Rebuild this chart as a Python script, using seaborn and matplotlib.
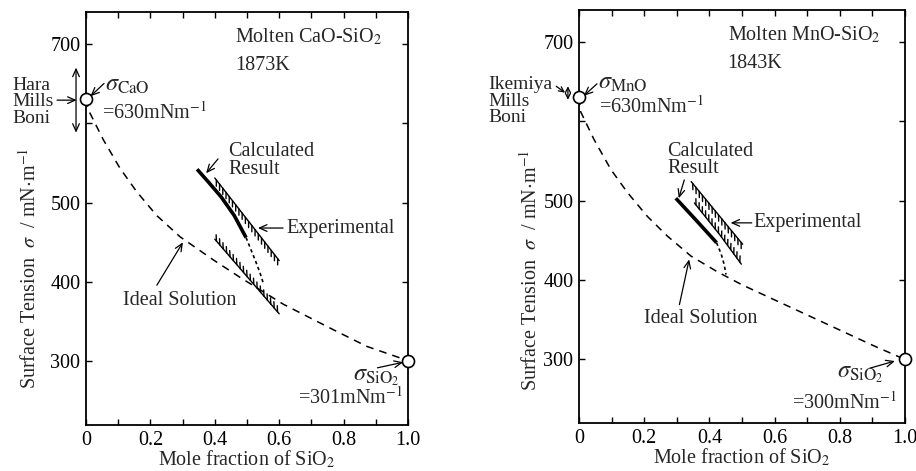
import matplotlib
matplotlib.use('Agg')
import matplotlib.pyplot as plt
import matplotlib.patheffects as pe
import seaborn as sns
import numpy as np

sns.set_theme(style='ticks')
plt.rcParams['font.family'] = ['Liberation Serif', 'DejaVu Serif']
plt.rcParams['mathtext.fontset'] = 'stix'

# ---------------- data: CaO-SiO2 (1873 K) ----------------
cao_ideal_x = [0, 0.007, 0.054, 0.106, 0.157, 0.219, 0.292, 0.395, 0.478, 0.613, 0.768, 0.872, 1.0]
cao_ideal_y = [630, 617, 579, 543, 514, 484, 457, 428, 406, 372, 340, 319, 301]
cao_calc_x = [0.345, 0.38, 0.42, 0.46, 0.497]
cao_calc_y = [542, 526, 507, 484, 456]
cao_dot_x = [0.497, 0.509, 0.525, 0.540, 0.551]
cao_dot_y = [456, 444, 428, 412, 398]
cao_exp_up_x = [0.40, 0.50, 0.60]
cao_exp_up_y = [531, 479, 427]
cao_exp_lo_x = [0.40, 0.50, 0.60]
cao_exp_lo_y = [454, 407, 360]
cao_end_x = [0.0, 1.0]
cao_end_y = [630, 301]

# ---------------- data: MnO-SiO2 (1843 K) ----------------
mno_ideal_x = [0, 0.005, 0.046, 0.098, 0.149, 0.21, 0.272, 0.344, 0.426, 0.5, 0.6, 0.7, 0.8, 0.9, 1.0]
mno_ideal_y = [630, 612, 577, 539, 510, 480, 455, 430, 410, 394, 375, 356, 337, 318, 300]
mno_calc_x = [0.297, 0.36, 0.422]
mno_calc_y = [503, 475, 447]
mno_dot_x = [0.422, 0.436, 0.445, 0.451]
mno_dot_y = [447, 433, 420, 407]
mno_exp_up_x = [0.344, 0.42, 0.502]
mno_exp_up_y = [524, 486, 445]
mno_exp_lo_x = [0.354, 0.43, 0.498]
mno_exp_lo_y = [497, 458, 420]
mno_end_x = [0.0, 1.0]
mno_end_y = [630, 300]

xticks = [0, 0.1, 0.2, 0.3, 0.4, 0.5, 0.6, 0.7, 0.8, 0.9, 1.0]
xticklabels = ['0', '', '0.2', '', '0.4', '', '0.6', '', '0.8', '', '1.0']
yticks = [300, 400, 500, 600, 700]
yticklabels = ['300', '400', '500', '', '700']

FS = 14.5
fig = plt.figure(figsize=(9.16, 4.71), dpi=100)
axL = fig.add_axes([86/916, 1-425/471, 322/916, 413/471])
axR = fig.add_axes([579/916, 1-423/471, 326/916, 413/471])

arrow = dict(arrowstyle='->,head_length=0.45,head_width=0.2', color='black', lw=0.9,
             shrinkA=0, shrinkB=0)
small_arrow = dict(arrowstyle='->,head_length=0.3,head_width=0.15', color='black',
                   lw=0.9, shrinkA=0, shrinkB=0)


def arr(ax, head, tail, props=arrow):
    ax.annotate('', xy=head, xytext=tail, annotation_clip=False, arrowprops=props)


def draw_panel(ax, ix, iy, cx, cy, dx, dy, ux, uy, lx, ly, ex, ey):
    sns.lineplot(x=ix, y=iy, ax=ax, color='black', lw=1.1, sort=False)
    ax.lines[-1].set_dashes([5, 4])
    sns.lineplot(x=cx, y=cy, ax=ax, color='black', lw=2.6, sort=False)
    ax.lines[-1].set_solid_capstyle('butt')
    sns.lineplot(x=dx, y=dy, ax=ax, color='black', lw=1.2, sort=False)
    ax.lines[-1].set_dashes([2, 1.8])
    sns.lineplot(x=ux, y=uy, ax=ax, color='black', lw=1.0, sort=False)
    ax.lines[-1].set_path_effects([pe.withTickedStroke(angle=-38, spacing=3.6, length=1.25)])
    sns.lineplot(x=lx, y=ly, ax=ax, color='black', lw=1.0, sort=False)
    ax.lines[-1].set_path_effects([pe.withTickedStroke(angle=142, spacing=3.6, length=1.25)])
    sns.scatterplot(x=ex, y=ey, ax=ax, s=75, facecolor='white', edgecolor='black',
                    linewidth=1.2, zorder=5, clip_on=False)
    ax.set_xlim(0, 1.0)
    ax.set_ylim(220, 740)
    ax.set_xticks(xticks)
    ax.set_xticklabels(xticklabels)
    ax.set_yticks(yticks)
    ax.set_yticklabels(yticklabels)
    ax.tick_params(direction='in', top=True, right=True, length=4, width=1,
                   labelsize=FS, pad=4, colors='black')
    for s in ax.spines.values():
        s.set_linewidth(1.3)
        s.set_color('black')
        s.set_visible(True)
    ax.set_xlabel('Mole fraction of SiO$_2$', fontsize=FS)
    ax.set_ylabel(r'Surface Tension  $\sigma$  / mN$\cdot$m$^{-1}$', fontsize=FS)


draw_panel(axL, cao_ideal_x, cao_ideal_y, cao_calc_x, cao_calc_y, cao_dot_x, cao_dot_y,
           cao_exp_up_x, cao_exp_up_y, cao_exp_lo_x, cao_exp_lo_y, cao_end_x, cao_end_y)
draw_panel(axR, mno_ideal_x, mno_ideal_y, mno_calc_x, mno_calc_y, mno_dot_x, mno_dot_y,
           mno_exp_up_x, mno_exp_up_y, mno_exp_lo_x, mno_exp_lo_y, mno_end_x, mno_end_y)

axL.yaxis.set_label_coords(-0.14, 0.38)
axR.yaxis.set_label_coords(-0.114, 0.37)
axL.xaxis.set_label_coords(0.5, -0.058)
axR.xaxis.set_label_coords(0.5, -0.058)

# ---------- left panel annotations ----------
axL.text(0.463, 709, 'Molten CaO-SiO$_2$', fontsize=FS, va='center', ha='left')
axL.text(0.463, 673, '1873K', fontsize=FS, va='center', ha='left')
axL.annotate('', xy=(-0.031, 670), xytext=(-0.031, 588), annotation_clip=False,
             arrowprops=dict(arrowstyle='<->,head_length=0.45,head_width=0.2', color='black',
                             lw=0.9, shrinkA=0, shrinkB=0))
axL.text(-0.23, 627, 'Hara\nMills\nBoni', fontsize=14, va='center', ha='left',
         linespacing=0.95, clip_on=False)
arr(axL, (-0.029, 629), (-0.09, 629))
axL.text(0.058, 648, r'$\sigma_{\rm CaO}$', fontsize=FS+3, va='center', ha='left')
arr(axL, (0.014, 634), (0.056, 650))
axL.text(0.05, 614, '=630mNm$^{-1}$', fontsize=FS, va='center', ha='left')
axL.text(0.442, 553, 'Calculated\nResult', fontsize=FS, va='center', ha='left',
         linespacing=0.9)
arr(axL, (0.373, 537), (0.41, 555))
axL.text(0.621, 468, 'Experimental', fontsize=FS, va='center', ha='left')
arr(axL, (0.534, 468), (0.612, 468))
axL.text(0.115, 377, 'Ideal Solution', fontsize=FS, va='center', ha='left')
arr(axL, (0.301, 450), (0.22, 396))
arr(axL, (0.985, 299), (0.905, 292))
axL.text(0.83, 280, r'$\sigma_{\rm SiO_2}$', fontsize=FS+3, va='center', ha='left')
axL.text(0.985, 254, '=301mNm$^{-1}$', fontsize=FS, va='center', ha='right')

# ---------- right panel annotations ----------
axR.text(0.456, 708, 'Molten MnO-SiO$_2$', fontsize=FS, va='center', ha='left')
axR.text(0.456, 673, '1843K', fontsize=FS, va='center', ha='left')
axR.text(-0.278, 625, 'Ikemiya\nMills\nBoni', fontsize=14, va='center', ha='left',
         linespacing=0.95, clip_on=False)
arr(axR, (-0.043, 636), (-0.07, 644), small_arrow)
axR.annotate('', xy=(-0.034, 644), xytext=(-0.034, 627), annotation_clip=False,
             arrowprops=dict(arrowstyle='<->,head_length=0.3,head_width=0.15', color='black',
                             lw=0.9, shrinkA=0, shrinkB=0))
axR.text(0.058, 648, r'$\sigma_{\rm MnO}$', fontsize=FS+3, va='center', ha='left')
arr(axR, (0.015, 632), (0.055, 647))
axR.text(0.062, 618, '=630mNm$^{-1}$', fontsize=FS, va='center', ha='left')
axR.text(0.271, 551, 'Calculated\nResult', fontsize=FS, va='center', ha='left',
         linespacing=0.9)
arr(axR, (0.306, 503), (0.323, 526))
axR.text(0.535, 472, 'Experimental', fontsize=FS, va='center', ha='left')
arr(axR, (0.465, 472), (0.53, 472))
axR.text(0.2, 351, 'Ideal Solution', fontsize=FS, va='center', ha='left')
arr(axR, (0.338, 426), (0.308, 369))
arr(axR, (0.969, 298), (0.892, 289))
axR.text(0.79, 281, r'$\sigma_{\rm SiO_2}$', fontsize=FS+3, va='center', ha='left')
axR.text(0.975, 246, '=300mNm$^{-1}$', fontsize=FS, va='center', ha='right')

fig.savefig('out.png', dpi=100, facecolor='white')
